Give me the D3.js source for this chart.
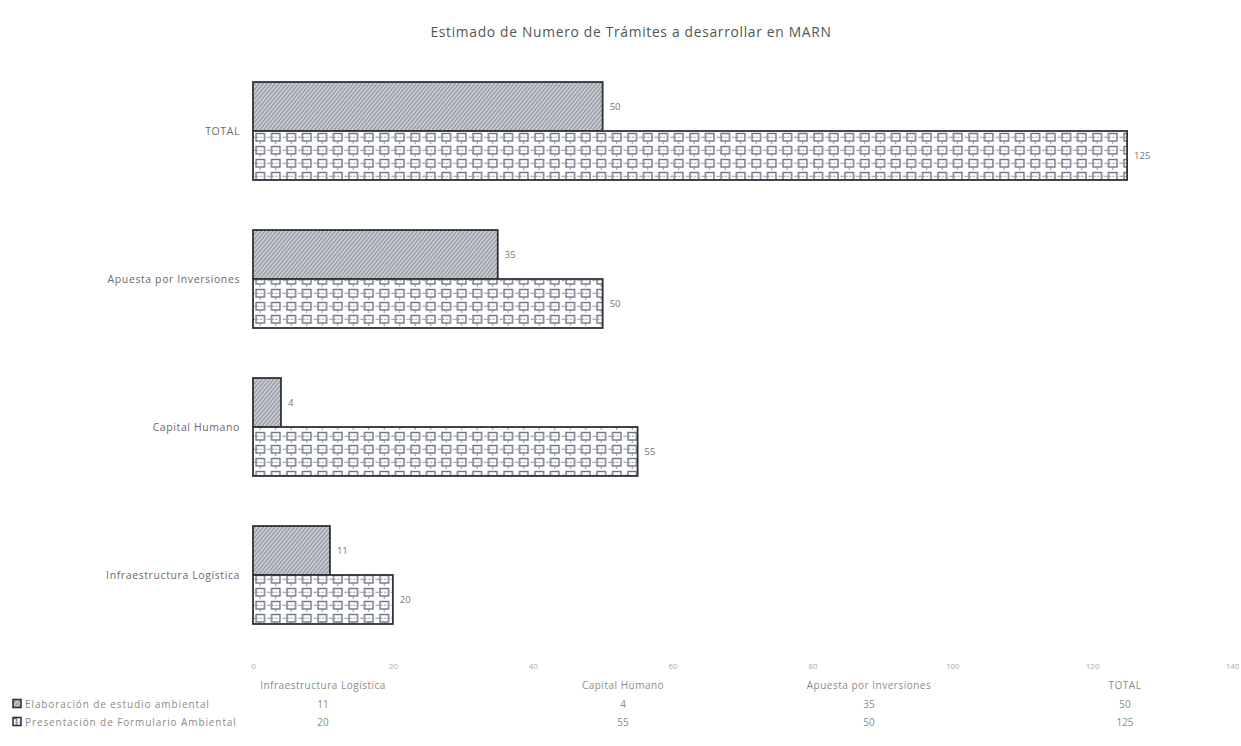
<!DOCTYPE html>
<html><head><meta charset="utf-8">
<script src="https://cdn.jsdelivr.net/npm/d3@7/dist/d3.min.js"></script>
<style>body{margin:0;background:#fff}svg{display:block}</style>
</head><body>
<script>
const categories = ["TOTAL", "Apuesta por Inversiones", "Capital Humano", "Infraestructura Logística"];
const seriesNames = ["Elaboración de estudio ambiental", "Presentación de Formulario Ambiental"];
const elaboracion = [50, 35, 4, 11];
const presentacion = [125, 50, 55, 20];
const tableOrder = ["Infraestructura Logística", "Capital Humano", "Apuesta por Inversiones", "TOTAL"];
const xTicks = [0, 20, 40, 60, 80, 100, 120, 140];
const title = "Estimado de Numero de Trámites a desarrollar  en  MARN";

const W = 1241, H = 746;
const font = "'Open Sans', 'Noto Sans', sans-serif";
const svg = d3.select("body").append("svg").attr("width", W).attr("height", H);

const defs = svg.append("defs");
// diagonal hatch
const ph = defs.append("pattern").attr("id", "hatch").attr("patternUnits", "userSpaceOnUse")
  .attr("width", 3).attr("height", 3).attr("patternTransform", "rotate(40)");
ph.append("rect").attr("width", 3).attr("height", 3).attr("fill", "#c6c9d0");
ph.append("line").attr("x1", 0).attr("y1", 0).attr("x2", 0).attr("y2", 3).attr("stroke", "#686c76").attr("stroke-width", 1.2);
// box grid
const pg = defs.append("pattern").attr("id", "boxes").attr("patternUnits", "userSpaceOnUse")
  .attr("width", 15.5).attr("height", 13).attr("x", 253).attr("y", 1);
pg.append("rect").attr("width", 15.5).attr("height", 13).attr("fill", "#fff");
pg.append("rect").attr("x", 3).attr("y", 2.5).attr("width", 8.5).attr("height", 7.5)
  .attr("fill", "none").attr("stroke", "#6f7584").attr("stroke-width", 1.4);
pg.append("line").attr("x1", 0).attr("x2", 15.5).attr("y1", 6.2).attr("y2", 6.2)
  .attr("stroke", "#8a8f9a").attr("stroke-width", 1).attr("stroke-dasharray", "2,1.5");
pg.append("line").attr("x1", 7.2).attr("x2", 7.2).attr("y1", 10).attr("y2", 13)
  .attr("stroke", "#8a8f9a").attr("stroke-width", 1);

const x = d3.scaleLinear().domain([0, 140]).range([253, 1232]);
const y = d3.scaleBand().domain(categories).range([57, 649]).paddingInner(0.338).paddingOuter(0.169);
const ys = d3.scaleBand().domain(seriesNames).range([0, y.bandwidth()]);

svg.append("text").attr("x", 631).attr("y", 37).attr("text-anchor", "middle")
  .attr("font-family", font).attr("font-size", 13.8).attr("letter-spacing", 0.7)
  .attr("fill", "#555").text(title);

const data = categories.map((c, i) => ({cat: c, vals: [elaboracion[i], presentacion[i]]}));
const fills = ["url(#hatch)", "url(#boxes)"];

const g = svg.append("g");
data.forEach(d => {
  d.vals.forEach((v, j) => {
    const yy = y(d.cat) + ys(seriesNames[j]);
    g.append("rect").attr("x", x(0)).attr("y", yy).attr("width", x(v) - x(0)).attr("height", ys.bandwidth())
      .attr("fill", fills[j]).attr("stroke", "#2f3238").attr("stroke-width", 1.8);
    g.append("text").attr("x", x(v) + 7).attr("y", yy + ys.bandwidth() / 2 + 3.5)
      .attr("font-family", font).attr("font-size", 9.5).attr("fill", "#777").text(v);
  });
});

// category labels
categories.forEach(c => {
  svg.append("text").attr("x", 240).attr("y", y(c) + y.bandwidth() / 2 + 3.5).attr("text-anchor", "end")
    .attr("font-family", font).attr("font-size", 10.5).attr("letter-spacing", 0.6)
    .attr("fill", "#6a6a6a").text(c);
});

// x axis
const ax = svg.append("g").attr("transform", "translate(0,649)")
  .call(d3.axisBottom(x).tickValues(xTicks).tickSize(0).tickPadding(14));
ax.select(".domain").remove();
ax.selectAll("text").attr("font-family", font).attr("font-size", 8).attr("fill", "#aaa");

// data table
const colX = d3.scaleOrdinal().domain(tableOrder).range([323, 623, 869, 1125]);
const rowY = [689, 708, 726];
tableOrder.forEach(c => {
  svg.append("text").attr("x", colX(c)).attr("y", rowY[0]).attr("text-anchor", "middle")
    .attr("font-family", font).attr("font-size", 10).attr("letter-spacing", 0.5)
    .attr("fill", "#8a8a8a").text(c);
  const i = categories.indexOf(c);
  [elaboracion[i], presentacion[i]].forEach((v, j) => {
    svg.append("text").attr("x", colX(c)).attr("y", rowY[j + 1]).attr("text-anchor", "middle")
      .attr("font-family", font).attr("font-size", 10).attr("fill", "#8a8a8a").text(v);
  });
});
seriesNames.forEach((s, j) => {
  svg.append("rect").attr("x", 13).attr("y", rowY[j + 1] - 8.5).attr("width", 8).attr("height", 8)
    .attr("fill", fills[j]).attr("stroke", "#2f3238").attr("stroke-width", 1.6);
  svg.append("text").attr("x", 25).attr("y", rowY[j + 1]).attr("font-family", font)
    .attr("font-size", 10).attr("letter-spacing", 0.9).attr("fill", "#8a8a8a").text(s);
});
</script>
</body></html>
